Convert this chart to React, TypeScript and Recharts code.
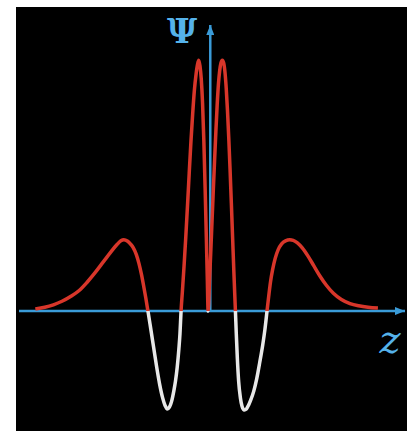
import { Line, LineChart, ReferenceLine, XAxis, YAxis } from "recharts";

// position along z and wavefunction value at that position
const zValues = [
  -4.02, -3.8, -3.6, -3.4, -3.2, -3.0, -2.82, -2.63, -2.43, -2.27, -2.12, -2.03, -1.96, -1.88, -1.81,
  -1.74, -1.67, -1.61, -1.55, -1.5, -1.45, -1.4,
  -1.34, -1.27, -1.2, -1.13, -1.06, -1.0, -0.95, -0.9, -0.85, -0.8, -0.76, -0.72, -0.68, -0.655, -0.63,
  -0.6, -0.56, -0.52, -0.48, -0.44, -0.4, -0.36, -0.32, -0.28, -0.25, -0.22,
  -0.19, -0.16, -0.13, -0.1, -0.07, -0.04, -0.02, 0,
  0.03, 0.06, 0.09, 0.12, 0.15, 0.18, 0.21, 0.24, 0.27, 0.3, 0.33,
  0.36, 0.39, 0.42, 0.45, 0.48, 0.51, 0.54, 0.57, 0.6, 0.635,
  0.655, 0.68, 0.71, 0.75, 0.79, 0.84, 0.89, 0.94, 0.99, 1.06, 1.13, 1.2, 1.27, 1.32, 1.37,
  1.41, 1.45, 1.5, 1.56, 1.63, 1.71, 1.8, 1.9, 1.98, 2.07, 2.19, 2.32, 2.46, 2.6, 2.75, 2.92, 3.1,
  3.3, 3.5, 3.72, 3.95,
];

const psiValues = [
  0.008, 0.015, 0.025, 0.039, 0.058, 0.082, 0.114, 0.153, 0.198, 0.234, 0.265, 0.28, 0.284, 0.279, 0.268,
  0.252, 0.225, 0.19, 0.145, 0.1, 0.052, 0,
  -0.065, -0.142, -0.22, -0.29, -0.345, -0.377, -0.39, -0.383, -0.36, -0.32, -0.28, -0.225, -0.15, -0.09, 0,
  0.075, 0.18, 0.295, 0.42, 0.55, 0.675, 0.785, 0.88, 0.945, 0.98, 1.0,
  0.978, 0.925, 0.83, 0.68, 0.49, 0.28, 0.135, 0,
  0.11, 0.23, 0.355, 0.48, 0.6, 0.715, 0.82, 0.905, 0.96, 0.99, 1.0,
  0.99, 0.955, 0.89, 0.8, 0.69, 0.565, 0.43, 0.29, 0.15, 0,
  -0.09, -0.19, -0.28, -0.345, -0.38, -0.394, -0.39, -0.375, -0.355, -0.32, -0.27, -0.205, -0.135, -0.075, 0,
  0.06, 0.115, 0.165, 0.21, 0.245, 0.268, 0.28, 0.284, 0.282, 0.273, 0.252, 0.22, 0.18, 0.14, 0.103, 0.07, 0.046,
  0.03, 0.021, 0.015, 0.012,
];

const zDomain: [number, number] = [-4.4, 4.58];
const psiDomain: [number, number] = [-0.454, 1.14];

const data = zValues.map((z, i) => ({ z, psi: psiValues[i] }));

const W = 391;
const H = 424;
const margin = { top: 18, right: 2, bottom: 6, left: 3 };

const AXIS = "#3a9bd8";
const LABEL = "#55b2ea";
const RED = "#d8362a";
const WHITE = "#e8e8e8";

// y of psi = 0 inside the svg, used for the red/white split of the stroke
const plotH = H - margin.top - margin.bottom;
const zeroY = margin.top + (psiDomain[1] / (psiDomain[1] - psiDomain[0])) * plotH;
const splitAt = zeroY / H;

export default function App() {
  return (
    <div style={{ position: "absolute", left: 16, top: 7, width: W, height: H, background: "#000" }}>
      <LineChart width={W} height={H} data={data} margin={margin}>
        <defs>
          <linearGradient id="psiStroke" gradientUnits="userSpaceOnUse" x1="0" y1="0" x2="0" y2={H}>
            <stop offset={splitAt} stopColor={RED} />
            <stop offset={splitAt} stopColor={WHITE} />
          </linearGradient>
          <marker
            id="arrowHead"
            markerUnits="userSpaceOnUse"
            markerWidth={10}
            markerHeight={8}
            refX={10}
            refY={4}
            orient="auto"
          >
            <path d="M0,0 L10,4 L0,8 z" fill={AXIS} />
          </marker>
        </defs>
        <XAxis dataKey="z" type="number" domain={zDomain} allowDataOverflow hide />
        <YAxis type="number" domain={psiDomain} allowDataOverflow hide />
        <ReferenceLine
          segment={[
            { x: zDomain[0], y: 0 },
            { x: zDomain[1], y: 0 },
          ]}
          stroke={AXIS}
          strokeWidth={2.5}
          markerEnd="url(#arrowHead)"
        />
        <ReferenceLine
          segment={[
            { x: 0.05, y: 0 },
            { x: 0.05, y: psiDomain[1] },
          ]}
          stroke={AXIS}
          strokeWidth={2.5}
          markerEnd="url(#arrowHead)"
        />
        <Line
          type="monotone"
          dataKey="psi"
          stroke="url(#psiStroke)"
          strokeWidth={3.5}
          dot={false}
          activeDot={false}
          isAnimationActive={false}
        />
      </LineChart>
      <svg width={W} height={H} style={{ position: "absolute", left: 0, top: 0, pointerEvents: "none" }}>
        <text x={166} y={36} textAnchor="middle" fill={LABEL} fontFamily="DejaVu Serif" fontWeight="bold" fontSize={33}>
          Ψ
        </text>
        <text
          x={374}
          y={346}
          textAnchor="middle"
          fill={LABEL}
          fontFamily="DejaVu Serif"
          fontStyle="italic"
          fontSize={40}
        >
          z
        </text>
      </svg>
    </div>
  );
}
